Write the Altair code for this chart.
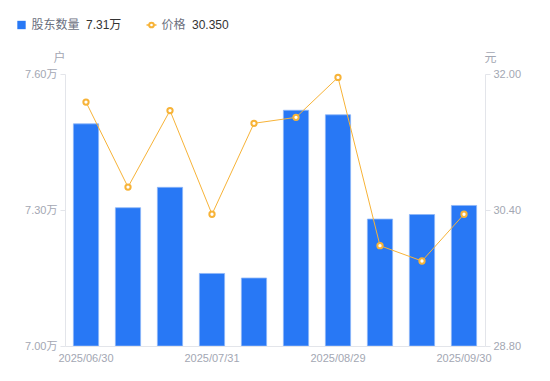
import altair as alt
import pandas as pd

dates = ["2025/06/30", "2025/07/10", "2025/07/20", "2025/07/31", "2025/08/10",
         "2025/08/20", "2025/08/29", "2025/09/10", "2025/09/19", "2025/09/30"]
holders = [7.49, 7.305, 7.35, 7.16, 7.15, 7.52, 7.51, 7.28, 7.29, 7.31]
prices = [31.67, 30.67, 31.57, 30.35, 31.42, 31.49, 31.96, 29.98, 29.80, 30.35]
shown_labels = ["2025/06/30", "2025/07/31", "2025/08/29", "2025/09/30"]
left_ticks = [7.00, 7.30, 7.60]
right_ticks = [28.80, 30.40, 32.00]

df = pd.DataFrame({"date": dates, "holders": holders, "price": prices})

BLUE = "#2878F5"
ORANGE = "#F7B338"
LABEL = "#A3A7B3"
DOMAIN = "#E3E5EA"
FONT = "Liberation Sans, Noto Sans CJK SC, sans-serif"

x_enc = alt.X(
    "date:O", sort=None,
    scale=alt.Scale(paddingInner=0.4, paddingOuter=0.2),
    axis=alt.Axis(
        title=None, labelAngle=0, ticks=False, domainColor=DOMAIN,
        labelColor=LABEL, labelFontSize=11, labelPadding=6,
        labelExpr="indexof(" + str(shown_labels).replace("'", '"') + ", datum.label) >= 0 ? datum.label : ''",
    ),
)

bars = alt.Chart(df).mark_bar(color=BLUE, stroke="#8DB6F8", strokeWidth=0.8, clip=True).encode(
    x=x_enc,
    y=alt.Y(
        "holders:Q",
        scale=alt.Scale(domain=[7.0, 7.6], zero=False, nice=False),
        axis=alt.Axis(
            orient="left", values=left_ticks, grid=False,
            labelExpr="format(datum.value, '.2f') + '万'",
            labelColor=LABEL, labelFontSize=11, labelPadding=3,
            tickColor=DOMAIN, tickSize=5, domainColor=DOMAIN,
            title="户", titleAngle=0, titleColor=LABEL, titleFontSize=12,
            titleFontWeight="normal", titleX=-6, titleY=-17,
            titleAlign="center", titleBaseline="middle",
        ),
    ),
    y2=alt.datum(7.0),
)

price_y = alt.Y(
    "price:Q",
    scale=alt.Scale(domain=[28.8, 32.0], zero=False, nice=False),
    axis=alt.Axis(
        orient="right", values=right_ticks, grid=False, format=".2f",
        labelColor=LABEL, labelFontSize=11, labelPadding=3,
        tickColor=DOMAIN, tickSize=5, domainColor=DOMAIN,
        title="元", titleAngle=0, titleColor=LABEL, titleFontSize=12,
        titleFontWeight="normal", titleX=5, titleY=-17,
        titleAlign="center", titleBaseline="middle",
    ),
)

line = alt.Chart(df).mark_line(color=ORANGE, strokeWidth=1).encode(
    x=alt.X("date:O", sort=None), y=price_y)

points = alt.Chart(df).mark_point(
    shape="circle", filled=True, fill="white", stroke=ORANGE, strokeWidth=2, size=28, opacity=1
).encode(x=alt.X("date:O", sort=None), y=price_y)

price_layer = alt.layer(line, points)

# legend
leg_df = pd.DataFrame({"k": [0]})
LY = -49
leg_sq = alt.Chart(leg_df).mark_square(color=BLUE, size=70, opacity=1).encode(
    x=alt.value(-43.5), y=alt.value(LY))
leg_t1 = alt.Chart(leg_df).mark_text(align="left", baseline="middle", fontSize=12, color="#6B7080").encode(
    x=alt.value(-33.5), y=alt.value(LY), text=alt.value("股东数量"))
leg_v1 = alt.Chart(leg_df).mark_text(align="left", baseline="middle", fontSize=12, color="#333333").encode(
    x=alt.value(21), y=alt.value(LY), text=alt.value(f"{holders[-1]:.2f}万"))
leg_ln = alt.Chart(leg_df).mark_rule(color=ORANGE, strokeWidth=1.5).encode(
    x=alt.value(81.5), x2=alt.value(91.5), y=alt.value(LY))
leg_pt = alt.Chart(leg_df).mark_point(shape="circle", filled=True, fill="white", stroke=ORANGE,
                                      strokeWidth=2, size=22, opacity=1).encode(
    x=alt.value(86.5), y=alt.value(LY))
leg_t2 = alt.Chart(leg_df).mark_text(align="left", baseline="middle", fontSize=12, color="#6B7080").encode(
    x=alt.value(96.5), y=alt.value(LY), text=alt.value("价格"))
leg_v2 = alt.Chart(leg_df).mark_text(align="left", baseline="middle", fontSize=12, color="#333333").encode(
    x=alt.value(127), y=alt.value(LY), text=alt.value(f"{prices[-1]:.3f}"))

chart = alt.layer(
    bars, price_layer, leg_sq, leg_t1, leg_v1, leg_ln, leg_pt, leg_t2, leg_v2
).resolve_scale(y="independent").properties(
    width=420, height=272,
    autosize=alt.AutoSizeParams(type="none"),
    padding={"left": 57, "top": 66, "right": 50, "bottom": 20},
).configure(font=FONT).configure_view(stroke=None)

chart.save("out.html", embed_options={"renderer": "svg", "actions": False})
